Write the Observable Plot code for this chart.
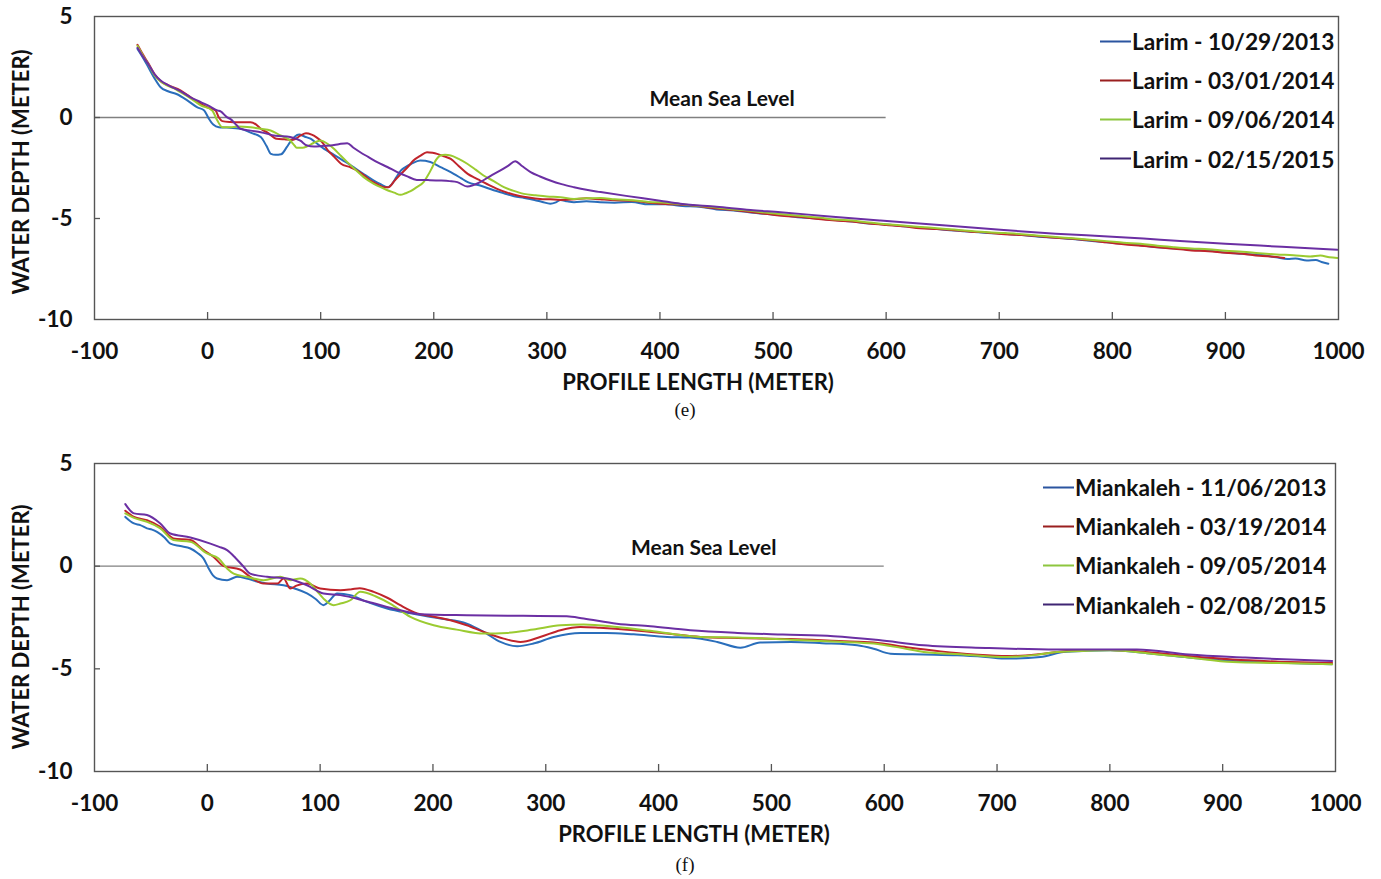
<!DOCTYPE html>
<html><head><meta charset="utf-8">
<script src="https://cdn.jsdelivr.net/npm/d3@7"></script>
<script src="https://cdn.jsdelivr.net/npm/@observablehq/plot@0.6"></script>
<style>
body{margin:0;background:#fff;width:1381px;height:879px;position:relative;overflow:hidden;font-family:Lato,"Open Sans",sans-serif;color:#111;}
.panel{position:absolute;left:0;width:1381px;}
.abs{position:absolute;white-space:nowrap;}
.ctr{transform:translate(-50%,-50%);}
.title{font-weight:700;font-size:22px;}
.ylab{font-weight:700;font-size:22px;transform:translate(-50%,-50%) rotate(-90deg);}
.cap{font-family:"Liberation Serif","DejaVu Serif",serif;font-size:19px;}
.leg{font-weight:700;font-size:22.7px;display:flex;align-items:center;transform:translateY(-50%);}
.sw{display:inline-block;height:2px;margin-right:1px;}
</style>
</head><body>
<div id="root"></div>
<script>
// ---------- shared axes ----------
const xDomain = [-100, 1000];
const xTicks = [-100, 0, 100, 200, 300, 400, 500, 600, 700, 800, 900, 1000];
const yDomain = [-10, 5];
const yTicks = [-10, -5, 0, 5];
const xTitle = "PROFILE LENGTH (METER)";
const yTitle = "WATER DEPTH (METER)";
const mslText = "Mean Sea Level";
const mslExtent = [-100, 600];
const seriesColors = ["#2a6ebb", "#c0242b", "#9bcb31", "#6b2fa3"];
const legendColors = ["#2b55a0", "#9a1f1f", "#8dc63f", "#3f2573"];

// ---------- (e) Larim ----------
const larimNames = ["Larim - 10/29/2013", "Larim - 03/01/2014", "Larim - 09/06/2014", "Larim - 02/15/2015"];
const larim20131029 = [[-62,3.4],[-57,2.95],[-52,2.45],[-47,1.95],[-41.5,1.5],[-35,1.3],[-27,1.15],[-18,0.85],[-9,0.5],[-3,0.35],[1,-0.05],[5,-0.35],[10,-0.48],[17,-0.5],[29,-0.56],[38,-0.75],[47,-0.97],[52,-1.4],[56,-1.8],[60,-1.85],[65,-1.82],[70,-1.47],[73,-1.22],[77,-0.95],[81,-0.84],[86,-0.95],[91,-1.05],[97,-1.3],[103,-1.55],[109,-1.75],[115,-1.96],[122,-2.2],[129,-2.46],[138,-2.8],[147,-3.12],[153,-3.3],[159,-3.45],[163,-3.3],[167,-2.95],[171,-2.62],[175,-2.45],[180,-2.3],[188,-2.13],[197,-2.2],[206,-2.46],[212,-2.62],[218,-2.8],[224,-3.0],[230,-3.2],[241,-3.37],[253,-3.6],[262,-3.75],[271,-3.9],[280,-3.98],[289,-4.08],[296,-4.18],[303,-4.27],[308,-4.2],[312,-4.08],[318,-4.15],[324,-4.19],[335,-4.15],[347,-4.2],[360,-4.22],[375,-4.18],[390,-4.3],[405,-4.3],[420,-4.38],[435,-4.42],[450,-4.55],[465,-4.6],[480,-4.7],[495,-4.78],[510,-4.85],[525,-4.95],[540,-5.0],[555,-5.08],[570,-5.15],[585,-5.25],[600,-5.3],[615,-5.38],[630,-5.45],[645,-5.52],[660,-5.6],[675,-5.65],[690,-5.72],[705,-5.75],[720,-5.82],[735,-5.9],[750,-5.95],[765,-6.02],[780,-6.1],[795,-6.18],[810,-6.25],[825,-6.32],[840,-6.42],[855,-6.48],[870,-6.55],[885,-6.6],[900,-6.68],[915,-6.75],[930,-6.8],[945,-6.92],[955,-7.0],[962,-6.98],[972,-7.08],[980,-7.05],[985,-7.15],[991,-7.24]];
const larim20140301 = [[-62,3.6],[-57,3.1],[-52,2.65],[-47,2.15],[-41.5,1.8],[-35,1.6],[-24,1.34],[-15,1.0],[-6,0.68],[2,0.45],[7,0.35],[10,0.0],[13,-0.18],[20,-0.22],[26,-0.23],[38,-0.23],[43,-0.35],[47,-0.56],[53,-0.75],[61,-1.05],[68,-1.08],[76,-1.1],[82,-0.9],[87,-0.78],[92,-0.85],[96,-0.97],[101,-1.2],[106,-1.6],[112,-1.95],[118,-2.29],[126,-2.46],[132,-2.62],[138,-2.85],[144,-3.12],[150,-3.3],[156,-3.45],[160,-3.45],[165,-3.15],[171,-2.79],[177,-2.45],[182,-2.13],[188,-1.9],[194,-1.72],[199,-1.75],[203,-1.8],[209,-1.92],[215,-2.05],[222,-2.4],[230,-2.79],[236,-2.98],[241,-3.12],[249,-3.35],[256,-3.53],[265,-3.72],[274,-3.86],[284,-3.96],[294,-4.03],[303,-4.05],[312,-4.08],[325,-4.05],[335,-4.0],[347,-4.05],[360,-4.1],[375,-4.12],[390,-4.22],[405,-4.28],[420,-4.32],[435,-4.4],[450,-4.5],[465,-4.58],[480,-4.68],[495,-4.78],[510,-4.88],[525,-4.93],[540,-5.02],[555,-5.1],[570,-5.15],[585,-5.25],[600,-5.32],[615,-5.38],[630,-5.48],[645,-5.52],[660,-5.58],[675,-5.65],[690,-5.7],[705,-5.78],[720,-5.82],[735,-5.88],[750,-5.95],[765,-6.0],[780,-6.08],[795,-6.18],[810,-6.28],[825,-6.35],[840,-6.42],[855,-6.5],[870,-6.58],[885,-6.62],[900,-6.7],[915,-6.75],[930,-6.85],[945,-6.9],[952,-6.95]];
const larim20140906 = [[-62,3.55],[-57,3.05],[-52,2.6],[-47,2.1],[-38.6,1.67],[-30,1.45],[-24,1.25],[-15,0.95],[-6,0.6],[4,0.35],[8.6,-0.15],[13,-0.48],[20,-0.48],[26,-0.45],[38,-0.48],[47,-0.56],[55.7,-0.64],[64.5,-0.89],[73,-1.14],[77,-1.4],[79,-1.5],[84,-1.5],[88,-1.43],[94,-1.25],[100,-1.14],[106,-1.3],[111.7,-1.55],[117,-1.85],[123.5,-2.21],[130,-2.55],[138,-2.95],[147,-3.28],[153,-3.45],[159,-3.6],[165,-3.72],[170.6,-3.83],[175,-3.75],[179.5,-3.65],[185,-3.45],[191,-3.2],[195,-2.85],[198.7,-2.46],[202,-2.1],[206,-1.88],[210,-1.85],[215,-1.88],[222,-2.05],[229.6,-2.29],[237,-2.58],[244,-2.87],[253,-3.15],[262,-3.45],[270,-3.62],[279.7,-3.78],[290,-3.85],[300,-3.91],[312,-3.95],[324,-4.03],[335,-4.0],[347.5,-3.98],[360,-4.05],[375,-4.1],[390,-4.18],[405,-4.22],[420,-4.3],[435,-4.38],[450,-4.45],[465,-4.55],[480,-4.62],[495,-4.72],[510,-4.8],[525,-4.88],[540,-4.95],[555,-5.05],[570,-5.1],[585,-5.2],[600,-5.28],[615,-5.35],[630,-5.42],[645,-5.48],[660,-5.55],[675,-5.62],[690,-5.68],[705,-5.72],[720,-5.78],[735,-5.85],[750,-5.92],[765,-5.98],[780,-6.05],[795,-6.12],[810,-6.2],[825,-6.25],[840,-6.35],[855,-6.42],[870,-6.48],[885,-6.52],[900,-6.6],[915,-6.65],[930,-6.72],[945,-6.78],[960,-6.82],[975,-6.88],[984,-6.83],[992,-6.92],[999,-6.95]];
const larim20150215 = [[-62,3.45],[-57,3.0],[-52,2.6],[-47,2.15],[-41.5,1.83],[-35,1.6],[-24,1.3],[-15,1.0],[-6,0.76],[2,0.55],[8.6,0.35],[11.5,0.3],[17,0.02],[20,-0.07],[26,-0.4],[29,-0.56],[38,-0.65],[47,-0.73],[60,-0.9],[73,-0.97],[82,-1.15],[88,-1.39],[94,-1.44],[103,-1.4],[108.7,-1.39],[116,-1.32],[123.5,-1.27],[129,-1.5],[135,-1.72],[142,-1.95],[150,-2.21],[159,-2.45],[167.7,-2.7],[176,-2.9],[185,-3.09],[195,-3.1],[206,-3.12],[214,-3.15],[220.8,-3.2],[229.6,-3.42],[235,-3.35],[241,-3.2],[250,-2.9],[259,-2.62],[266,-2.38],[272,-2.16],[278,-2.4],[285.6,-2.7],[294,-2.92],[303,-3.12],[313,-3.3],[324,-3.45],[335,-3.58],[347.5,-3.69],[370,-3.88],[400,-4.12],[418,-4.27],[450,-4.42],[480,-4.58],[506.6,-4.69],[550,-4.9],[595,-5.1],[650,-5.33],[701,-5.56],[750,-5.75],[800,-5.9],[842.6,-6.05],[900,-6.25],[950,-6.4],[999,-6.55]];
const larimMslLabel = {x: 455, y: 0.9};

// ---------- (f) Miankaleh ----------
const mianNames = ["Miankaleh - 11/06/2013", "Miankaleh - 03/19/2014", "Miankaleh - 09/05/2014", "Miankaleh - 02/08/2015"];
const mian20131106 = [[-72.7,2.4],[-65,2.08],[-59.4,2.0],[-53.5,1.84],[-49,1.78],[-44.6,1.67],[-38,1.4],[-32.8,1.1],[-24,0.98],[-15,0.86],[-9,0.65],[-3.3,0.37],[1.2,-0.11],[5,-0.45],[8.6,-0.6],[17.5,-0.68],[26.3,-0.52],[35,-0.6],[44,-0.75],[53,-0.85],[67.6,-0.93],[78,-1.1],[88.4,-1.33],[96,-1.6],[103,-1.9],[108,-1.7],[115,-1.33],[126.8,-1.41],[141.6,-1.74],[159.3,-2.06],[180,-2.3],[206.6,-2.55],[230,-2.8],[245,-3.2],[259.8,-3.69],[274.6,-3.9],[289,-3.77],[307,-3.45],[330.7,-3.25],[354,-3.25],[378,-3.32],[407.5,-3.45],[428,-3.48],[452,-3.69],[472.5,-3.97],[490,-3.72],[517,-3.69],[545,-3.75],[576,-3.85],[590.7,-4.02],[605.5,-4.26],[635,-4.3],[664.6,-4.34],[690,-4.42],[709,-4.5],[738.5,-4.42],[759,-4.18],[780,-4.12],[800.5,-4.1],[837,-4.26],[870,-4.45],[909,-4.62],[950,-4.7],[997,-4.78]];
const mian20140319 = [[-72.7,2.7],[-65,2.4],[-53.5,2.24],[-41.7,1.92],[-30,1.35],[-15,1.27],[-3.3,0.78],[5.6,0.45],[14.5,0.0],[29,-0.16],[38,-0.52],[50,-0.85],[62,-0.85],[67.6,-0.6],[73.6,-1.09],[79,-0.95],[88.4,-0.85],[100,-1.09],[118,-1.17],[128,-1.12],[135,-1.07],[147.5,-1.25],[160,-1.55],[171,-1.9],[186,-2.3],[200,-2.45],[215.5,-2.63],[230,-2.88],[245,-3.2],[262.7,-3.53],[277.5,-3.69],[295,-3.45],[313,-3.12],[330.7,-2.96],[348,-3.0],[378,-3.12],[407.5,-3.28],[437,-3.45],[470,-3.5],[517,-3.55],[560,-3.65],[590.7,-3.72],[620,-3.95],[650,-4.15],[680,-4.3],[709,-4.38],[735,-4.3],[753,-4.18],[780,-4.08],[800.5,-4.08],[837,-4.2],[870,-4.38],[909,-4.55],[950,-4.65],[997,-4.72]];
const mian20140905 = [[-72.7,2.57],[-65,2.35],[-53.5,2.16],[-41.7,1.84],[-30,1.27],[-15,1.19],[-0.3,0.62],[10,0.37],[17.5,-0.11],[23.3,-0.36],[35,-0.52],[50,-0.68],[64.7,-0.52],[73.6,-0.68],[82.4,-0.6],[91.3,-0.85],[97,-1.2],[103,-1.58],[112,-1.9],[118,-1.82],[126.8,-1.66],[135.6,-1.25],[150.4,-1.5],[162,-1.82],[180,-2.47],[200.6,-2.88],[221,-3.09],[245,-3.28],[265.7,-3.25],[289,-3.09],[313,-2.88],[333.6,-2.84],[363,-2.96],[392.7,-3.15],[437,-3.45],[470,-3.48],[517,-3.58],[560,-3.68],[590.7,-3.77],[615,-3.98],[635,-4.18],[670,-4.3],[709,-4.42],[735,-4.32],[753,-4.18],[780,-4.12],[800.5,-4.1],[837,-4.26],[870,-4.45],[909,-4.67],[950,-4.72],[997,-4.78]];
const mian20150208 = [[-72.7,3.02],[-65,2.57],[-53.5,2.49],[-41.7,2.08],[-32.8,1.59],[-15,1.4],[2.7,1.1],[10,0.95],[17.5,0.78],[25,0.4],[32.2,-0.03],[38,-0.36],[53,-0.52],[70.7,-0.6],[88.4,-0.93],[103,-1.33],[118,-1.41],[141.6,-1.72],[171,-2.15],[188.8,-2.34],[230,-2.39],[280,-2.42],[318.6,-2.44],[333.6,-2.55],[363,-2.8],[392.7,-2.93],[428,-3.12],[470,-3.25],[510,-3.33],[555,-3.41],[595,-3.6],[635,-3.85],[690,-3.98],[753,-4.06],[800.5,-4.06],[824,-4.06],[870,-4.3],[920,-4.45],[960,-4.55],[997,-4.62]];
const mianMslLabel = {x: 440, y: 0.85};

const root = document.getElementById("root");
const fmt = d => String(d);

function addDiv(cls, text, left, top, extra) {
  const d = document.createElement("div");
  d.className = "abs " + cls;
  d.textContent = text;
  d.style.left = left + "px";
  d.style.top = top + "px";
  if (extra) Object.assign(d.style, extra);
  root.appendChild(d);
  return d;
}

function makePanel(cfg) {
  const frameH = cfg.height - cfg.mt - cfg.mb;
  const frameW = 1381 - 94 - cfg.mr;
  const data = cfg.series.flatMap((vals, i) => vals.map(([x, y]) => ({x, y, name: cfg.names[i]})));
  const svg = Plot.plot({
    width: 1381, height: cfg.height,
    marginLeft: 94, marginRight: cfg.mr, marginTop: cfg.mt, marginBottom: cfg.mb,
    style: {fontFamily: "Lato, 'Open Sans', sans-serif", fontWeight: 700, fontSize: "22.5px", color: "#111", background: "transparent", overflow: "visible"},
    x: {domain: xDomain, ticks: xTicks, tickSize: 0, tickPadding: 24, tickFormat: fmt, label: null},
    y: {domain: yDomain, ticks: yTicks, tickSize: 0, tickPadding: 22, tickFormat: fmt, label: null},
    color: {domain: cfg.names, range: seriesColors},
    marks: [
      Plot.ruleY([0], {x1: mslExtent[0], x2: mslExtent[1], stroke: "#808080", strokeWidth: 1.3}),
      Plot.text([cfg.mslLabel], {x: "x", y: "y", text: () => mslText, fontSize: 21, fontWeight: 700, fill: "#111"}),
      Plot.ruleX(xTicks.slice(1, -1), {insetTop: frameH - 7, stroke: "#555", strokeWidth: 1.3}),
      Plot.ruleY(yTicks.slice(1, -1), {insetRight: frameW - 6, stroke: "#555", strokeWidth: 1.3}),
      Plot.line(data, {x: "x", y: "y", z: "name", stroke: "name", strokeWidth: 2, curve: "monotone-x"}),
      Plot.frame({stroke: "#555", strokeWidth: 1.4})
    ]
  });
  const wrap = document.createElement("div");
  wrap.className = "panel";
  wrap.style.top = cfg.top + "px";
  wrap.appendChild(svg);
  root.appendChild(wrap);

  // titles & caption
  addDiv("title ctr", xTitle, cfg.xTitlePos[0], cfg.xTitlePos[1]);
  addDiv("ylab", yTitle, cfg.yTitlePos[0], cfg.yTitlePos[1]);
  addDiv("cap ctr", cfg.caption, cfg.capPos[0], cfg.capPos[1]);
  // legend
  cfg.names.forEach((n, i) => {
    const row = document.createElement("div");
    row.className = "abs leg";
    row.style.left = cfg.legX + "px";
    row.style.top = (cfg.legY + i * 39.2) + "px";
    const sw = document.createElement("span");
    sw.className = "sw";
    sw.style.width = "31px";
    sw.style.background = legendColors[i];
    const t = document.createElement("span");
    t.textContent = n;
    row.appendChild(sw); row.appendChild(t);
    root.appendChild(row);
  });
}

makePanel({
  top: 0, height: 400, mt: 16, mb: 81, mr: 43,
  names: larimNames,
  series: [larim20131029, larim20140301, larim20140906, larim20150215],
  mslLabel: larimMslLabel,
  xTitlePos: [698, 381], yTitlePos: [20, 172], caption: "(e)", capPos: [685, 410],
  legX: 1100, legY: 41
});
makePanel({
  top: 440, height: 439, mt: 23, mb: 108, mr: 46,
  names: mianNames,
  series: [mian20131106, mian20140319, mian20140905, mian20150208],
  mslLabel: mianMslLabel,
  xTitlePos: [694, 833], yTitlePos: [20, 627], caption: "(f)", capPos: [685, 865],
  legX: 1043, legY: 487
});
</script>
</body></html>
